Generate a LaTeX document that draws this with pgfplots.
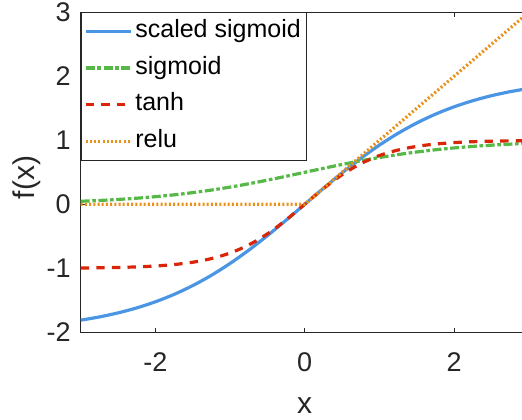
\documentclass[border=0pt]{standalone}
\usepackage{fontspec}
\setmainfont{Liberation Sans}
\usepackage{pgfplots}
\pgfplotsset{compat=1.18}

\definecolor{cblue}{RGB}{74,150,228}
\definecolor{cgreen}{RGB}{86,184,70}
\definecolor{cred}{RGB}{218,38,8}
\definecolor{corange}{RGB}{234,145,26}
\definecolor{axgray}{RGB}{38,38,38}

\begin{document}
\begin{tikzpicture}
\begin{axis}[
    name=ax,
    scale only axis,
    width=224pt, height=160pt,
    xmin=-3, xmax=3, ymin=-2, ymax=3,
    xtick={-2,0,2}, xticklabels={-2,0,2},
    ytick={-2,-1,0,1,2,3}, yticklabels={-2,-1,0,1,2,3},
    tick align=inside,
    major tick length=2.2pt,
    xtick pos=both, ytick pos=left,
    axis line style={axgray, line width=0.5pt},
    every tick/.style={axgray, line width=0.5pt},
    tick label style={font=\fontsize{13.5}{14}\selectfont, text=axgray},
    xticklabel style={anchor=north, inner sep=0pt, yshift=-10pt},
    yticklabel style={anchor=east, inner sep=0pt, xshift=-4.8pt},
    xlabel={x}, ylabel={f(x)},
    label style={font=\fontsize{15}{16}\selectfont, text=axgray},
    xlabel style={at={(axis description cs:0.5,-0.2294)}, anchor=center, inner sep=0pt},
    ylabel style={at={(axis description cs:-0.1196,0.484)}, anchor=center, inner sep=0pt},
    legend cell align=left,
    legend image code/.code={\draw[#1] (0pt,0pt) -- (22.5pt,0pt);},
    legend style={at={(0,1)}, anchor=north west, draw=axgray, line width=0.5pt,
        font=\fontsize{12.5}{13}\selectfont, inner xsep=1.5pt, inner ysep=2.2pt,
        row sep=4.4pt,
        nodes={inner xsep=1.5pt, inner ysep=1pt, text height=9pt, text depth=3pt}},
]
\addplot[cblue, line width=1.6pt, smooth] coordinates {
(-3,-1.81028) (-2.75,-1.75964) (-2.5,-1.69656) (-2.25,-1.61860) (-2,-1.52320)
(-1.75,-1.40780) (-1.5,-1.27028) (-1.25,-1.10920) (-1,-0.92424) (-0.75,-0.71672)
(-0.5,-0.48984) (-0.25,-0.24872) (0,0)
(0.25,0.24872) (0.5,0.48984) (0.75,0.71672) (1,0.92424) (1.25,1.10920)
(1.5,1.27028) (1.75,1.40780) (2,1.52320) (2.25,1.61860) (2.5,1.69656)
(2.75,1.75964) (3,1.81028)
};
\addlegendentry{scaled sigmoid}
\addplot[cgreen, line width=1.6pt, smooth, dash pattern=on 4.5pt off 1.3pt on 1.8pt off 1.3pt] coordinates {
(-3,0.04743) (-2.75,0.06009) (-2.5,0.07586) (-2.25,0.09535) (-2,0.11920)
(-1.75,0.14805) (-1.5,0.18243) (-1.25,0.22270) (-1,0.26894) (-0.75,0.32082)
(-0.5,0.37754) (-0.25,0.43782) (0,0.5)
(0.25,0.56218) (0.5,0.62246) (0.75,0.67918) (1,0.73106) (1.25,0.77730)
(1.5,0.81757) (1.75,0.85195) (2,0.88080) (2.25,0.90465) (2.5,0.92414)
(2.75,0.93991) (3,0.95257)
};
\addlegendentry{sigmoid}
\addplot[cred, line width=1.6pt, smooth, dash pattern=on 4.2pt off 3.6pt] coordinates {
(-3,-0.99505) (-2.75,-0.99186) (-2.5,-0.98661) (-2.25,-0.97803) (-2,-0.96403)
(-1.75,-0.94138) (-1.5,-0.90515) (-1.25,-0.84828) (-1,-0.76159) (-0.75,-0.63515)
(-0.5,-0.46212) (-0.25,-0.24492) (0,0)
(0.25,0.24492) (0.5,0.46212) (0.75,0.63515) (1,0.76159) (1.25,0.84828)
(1.5,0.90515) (1.75,0.94138) (2,0.96403) (2.25,0.97803) (2.5,0.98661)
(2.75,0.99186) (3,0.99505)
};
\addlegendentry{tanh}
\addplot[corange, line width=1.6pt, dash pattern=on 1pt off 1.1pt] coordinates {
(-3,0) (0,0) (3,3)
};
\addlegendentry{relu}
\end{axis}
\pgfresetboundingbox
\path[use as bounding box] ([shift={(-40.35pt,-43.5pt)}]ax.south west) rectangle ([shift={(220.65pt,166.15pt)}]ax.south west);
\end{tikzpicture}
\end{document}
